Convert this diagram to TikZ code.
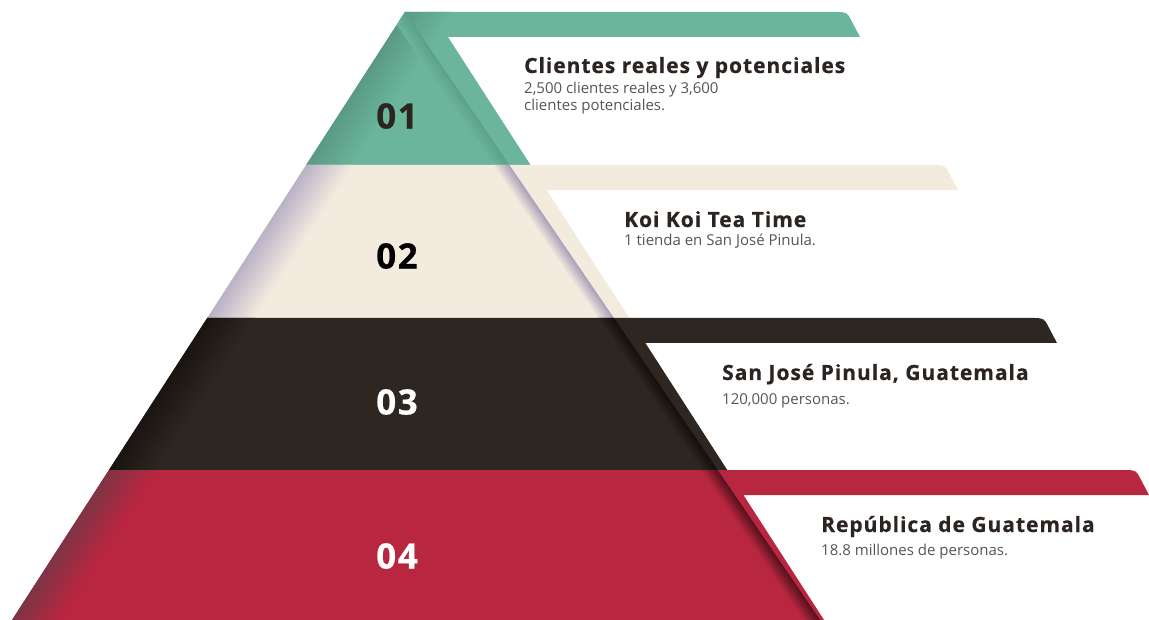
\documentclass[tikz,border=0pt]{standalone}
\usepackage{fontspec}
\setmainfont{Open Sans}
\newfontfamily\headfont{Open Sans}[BoldFeatures={LetterSpace=4.6, FakeBold=0.5}]
\definecolor{pyrgreen}{HTML}{6AB59C}
\definecolor{pyrcream}{HTML}{F4EBDF}
\definecolor{pyrdark}{HTML}{2E2620}
\definecolor{pyrred}{HTML}{B9263F}
\definecolor{pyrtext}{HTML}{2B2420}
\definecolor{pyrgray}{HTML}{555555}
\definecolor{pyrlilac}{HTML}{A89FB8}

\tikzset{
    bandtitle/.style={anchor=base west, inner sep=0pt, text=pyrtext,
        font=\headfont\bfseries\fontsize{21}{24}\selectfont},
    bandtext/.style={anchor=base west, inner sep=0pt, text=pyrgray, align=left,
        font=\fontsize{15}{17.5}\selectfont},
    bandnum/.style={inner sep=0pt, font=\headfont\bfseries\fontsize{35}{40}\selectfont}
}

\begin{document}
\begin{tikzpicture}[x=1pt, y={(0,-1pt)}]
            \useasboundingbox (0,0) rectangle (1149,620);

            % Bands: top / bottom / ribbon end / colour / left edge / fold
            \foreach \t/\b/\e/\col/\edgecol/\foldcol in {
                12/165/860/pyrgreen/pyrgreen!85!black/pyrgreen!88!black,
                165/318/958/pyrcream/pyrlilac!80/pyrlilac,
                318/470/1057/pyrdark/pyrdark!55!black/pyrdark!40!black,
                470/620/1149/pyrred/pyrred!70!pyrlilac!70!black/pyrred!45!black} {
                \begin{scope}
                    \path[fill=\col, save path=\bandpath] ({405-0.6464*(\t-12)},\t) -- ({\e-22},\t)
                        .. controls ({\e-14},\t) and ({\e-12},{\t+2}) .. ({\e-10},{\t+6})
                        -- (\e,{\t+25}) -- ({448+0.645*(\t+25-37)},{\t+25})
                        -- ({448+0.645*(\b-37)},\b) -- ({405-0.6464*(\b-12)},\b) -- cycle;
                    \clip[use path=\bandpath];
                    % shadow along the left edge
                    \begin{scope}[transform canvas={shift={(12,620)}, rotate=57.12}]
                        \shade[top color=\edgecol, bottom color=\col] (0,0) rectangle (760,40);
                    \end{scope}
                    % fold along the right edge
                    \begin{scope}[transform canvas={shift={(405,12)}, rotate=-55.68}]
                        \shade[top color=\foldcol, bottom color=\col] (0,0) rectangle (760,14);
                    \end{scope}
                \end{scope}
            }

            % Numbers
            \node[bandnum, text=pyrtext] (num1) at (397,116) {01};
            \node[bandnum, text=black] (num2) at (397,256) {02};
            \node[bandnum, text=white] (num3) at (397,402) {03};
            \node[bandnum, text=white] (num4) at (397,556) {04};

            % Labels
            \node[bandtitle] (title1) at (524,73) {Clientes reales y potenciales};
            \node[bandtext] (text1) at (524,111) {2,500 clientes reales y 3,600\\clientes potenciales.};
            \node[bandtitle] (title2) at (624,227) {Koi Koi Tea Time};
            \node[bandtext] (text2) at (624,246) {1 tienda en San José Pinula.};
            \node[bandtitle] (title3) at (722,380) {San José Pinula, Guatemala};
            \node[bandtext] (text3) at (722,404) {120,000 personas.};
            \node[bandtitle] (title4) at (821,532) {República de Guatemala};
            \node[bandtext] (text4) at (821,555) {18.8 millones de personas.};
        \end{tikzpicture}
\end{document}
